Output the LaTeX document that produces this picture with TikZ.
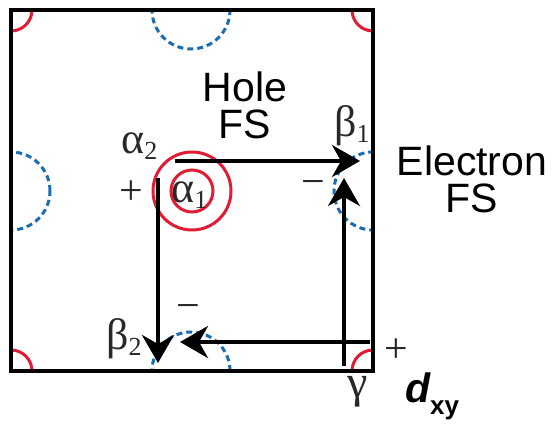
\documentclass[tikz,border=0pt]{standalone}
\usepackage{fontspec}
\setmainfont{Liberation Serif}
\newfontfamily\arialfont{Liberation Sans}
\usetikzlibrary{arrows.meta}
\definecolor{HoleRed}{RGB}{226,28,52}
\definecolor{ElecBlue}{RGB}{28,108,178}
\definecolor{LabelInk}{RGB}{40,40,40}
\newcommand{\glab}[2]{{\fontsize{44}{44}\selectfont #1\raisebox{-6pt}{\fontsize{26}{26}\selectfont #2}}}
\newcommand{\sfbig}{\arialfont\fontsize{41}{37}\selectfont}

\tikzset{
  holeFS/.style={draw=HoleRed,line width=3pt},
  elecFS/.style={draw=ElecBlue,line width=3pt,dash pattern=on 6pt off 4pt},
  hop/.style={->,line width=4pt},
  greek/.style={inner sep=0pt,anchor=base west,text=LabelInk},
  sign/.style={inner sep=0pt,text=LabelInk,font=\fontsize{42}{42}\selectfont},
  fslab/.style={align=center,font=\sfbig,inner sep=0pt}
}

\begin{document}
\begin{tikzpicture}[x=1pt,y=-1pt,>={Stealth[length=28pt,width=32pt,inset=9pt]}]
  \useasboundingbox (0,0) rectangle (554,424);
  \coordinate (nw) at (11,10);
  \coordinate (se) at (373,371);
  \coordinate (ne) at (373,10);
  \coordinate (sw) at (11,371);
  \coordinate (ctr) at (192,191);

  % Fermi surface pockets, cut by the zone edge
  \begin{scope}
    \clip (nw) rectangle (se);
    \foreach \c in {nw,ne,sw,se}
      \draw[holeFS] (\c) circle[radius=21pt];
    \draw[elecFS] (191,10) circle[radius=39pt];
    \draw[elecFS] (191,371) circle[radius=39pt];
    \draw[elecFS] (11,191) circle[radius=39pt];
    \draw[elecFS] (373,191) circle[radius=39pt];
  \end{scope}
  \draw[holeFS] (ctr) circle[radius=21pt];
  \draw[holeFS] (ctr) circle[radius=39pt];

  \draw[line width=4pt] (nw) rectangle (se);

  % scattering
  \coordinate (a2out) at (175,161);
  \coordinate (b1in)  at (360,161);
  \coordinate (gout)  at (344,366);
  \coordinate (b1up)  at (344,178);
  \coordinate (gleft) at (370,342);
  \coordinate (b2in)  at (180,342);
  \coordinate (a1out) at (158,178);
  \coordinate (b2dn)  at (158,363);
  \draw[hop] (a2out) -- (b1in);
  \draw[hop] (gout) -- (b1up);
  \draw[hop] (gleft) -- (b2in);
  \draw[hop] (a1out) -- (b2dn);

  \node[greek] (alpha2) at (121,153) {\glab{α}{2}};
  \node[greek] (alpha1) at (171,202) {\glab{α}{1}};
  \node[greek] (beta1) at (334,136) {\glab{β}{1}};
  \node[greek] (beta2) at (106,349) {\glab{β}{2}};
  \node[greek] (gamma) at (347,397) {\fontsize{46}{46}\selectfont γ};

  \node[sign] (plusA) at (131,193) {+};
  \node[sign] (minusB) at (313,188) {−};
  \node[sign] (minusC) at (188,312) {−};
  \node[sign] (plusD) at (396,351) {+};

  \node[fslab,anchor=base] (holeLab) at (245,138) {Hole\\FS};
  \node[fslab,anchor=base] (elecLab) at (472,212) {Electron\\FS};

  \node[inner sep=0pt,anchor=base west] (orb) at (405,402)
    {\arialfont\bfseries\itshape\fontsize{41}{41}\selectfont d\raisebox{-12pt}{\upshape\fontsize{26}{26}\selectfont xy}};
\end{tikzpicture}
\end{document}
